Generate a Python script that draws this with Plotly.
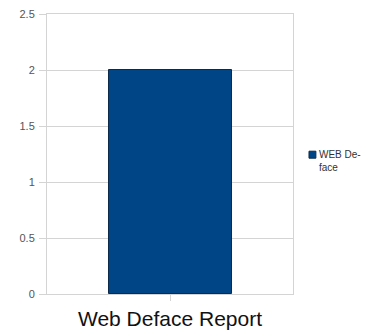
import plotly.graph_objects as go

# Data
categories = ["Web Deface Report"]
series_name = "WEB Deface"
series_values = [2]
y_ticks = [0, 0.5, 1, 1.5, 2, 2.5]
y_tick_labels = ["0", "0.5", "1", "1.5", "2", "2.5"]

BAR_COLOR = "#004586"
GRID = "#d4d4d4"

fig = go.Figure()
fig.add_trace(go.Bar(
    x=categories,
    y=series_values,
    name=series_name,
    width=0.5,
    marker=dict(color=BAR_COLOR, line=dict(color="#0d2a4a", width=1)),
    showlegend=False,
))

# Legend key: small swatch plus wrapped series name
fig.add_shape(type="rect", xref="paper", yref="paper",
              x0=1.065, x1=1.093, y0=0.485, y1=0.51,
              fillcolor=BAR_COLOR, line=dict(color="#0d2a4a", width=1))
fig.add_annotation(xref="paper", yref="paper", x=1.098, y=0.525,
                   xanchor="left", yanchor="top", align="left",
                   text="WEB De-<br>face", showarrow=False,
                   font=dict(family="Liberation Sans, Arial", size=10, color="#333333"))

fig.update_layout(
    width=378, height=333,
    margin=dict(l=47, r=85, t=14, b=39, autoexpand=False),
    paper_bgcolor="white",
    plot_bgcolor="white",
    font=dict(family="Liberation Sans, Arial", color="#444444"),
    xaxis=dict(
        automargin=False,
        showgrid=False,
        showline=True, linecolor=GRID, linewidth=1, mirror=True,
        ticks="outside", ticklen=6, tickcolor=GRID,
        tickfont=dict(size=21, color="#111111"),
        ticklabelstandoff=0,
        range=[-0.5, 0.5],
    ),
    yaxis=dict(
        automargin=False,
        range=[0, 2.5],
        tickvals=y_ticks, ticktext=y_tick_labels,
        showgrid=True, gridcolor=GRID, gridwidth=1,
        showline=True, linecolor=GRID, linewidth=1, mirror=True,
        ticks="outside", ticklen=7, tickcolor=GRID,
        tickfont=dict(size=11, color="#555555"),
        ticklabelstandoff=2,
        zeroline=False,
    ),
    bargap=0,
)

fig.write_html("out.html")
